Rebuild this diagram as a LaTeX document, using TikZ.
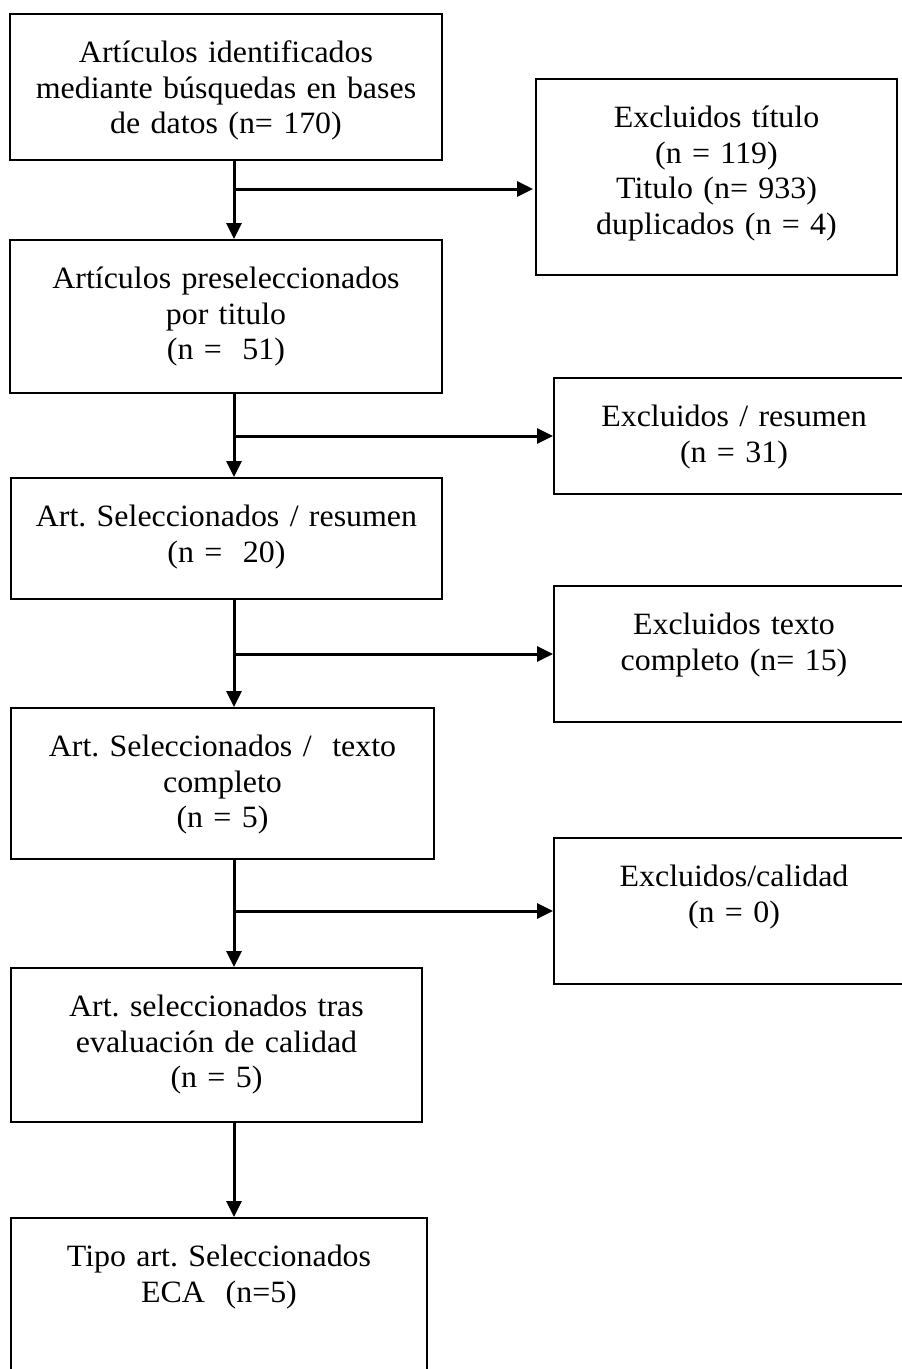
\documentclass[tikz,border=0pt]{standalone}
\usepackage{fontspec}
\setmainfont[FakeStretch=1.03]{Liberation Serif}
\frenchspacing
\usepackage{tikz}
\usetikzlibrary{arrows.meta, positioning}
\tikzstyle{stage} = [
  rectangle,
  anchor=north,
  draw=black,
  line width=2pt,
  inner xsep=0pt,
  inner ysep=0pt,
  align=center,
  text height=48.5pt,
  font=\fontsize{31}{35.5}\selectfont
]
\tikzstyle{excluded} = [stage, text width=360pt]
\tikzstyle{arrow} = [line width=3pt, -{Triangle[length=16pt,width=15pt]}]

\begin{document}
\begin{tikzpicture}[x=1pt, y=-1pt]
    \useasboundingbox (0,0) rectangle (902,1369);
    \coordinate (spine) at (234,0);
    \coordinate (split-title) at (234,189);

    \node (identified) [stage, text width=432pt, text depth=97.5pt] at (226,13)
      {Artículos identificados\\mediante búsquedas en bases\\de datos (n= 170)};
    \node (excluded-title) [excluded, text width=361pt, text depth=147.5pt] at (716.5,78)
      {Excluidos título\\(n = 119)\\Titulo (n= 933)\\duplicados (n = 4)};
    \node (preselected) [stage, text width=432pt, text depth=104.5pt] at (226,239)
      {Artículos preseleccionados\\por titulo\\(n = \ 51)};
    \node (excluded-abstract) [excluded, text depth=67.5pt] at (734,377)
      {Excluidos / resumen\\(n = 31)};
    \node (selected-abstract) [stage, text width=431pt, text depth=72.5pt] at (226.5,477)
      {Art. Seleccionados / resumen\\(n = \ 20)};
    \node (excluded-fulltext) [excluded, text depth=87.5pt] at (734,585)
      {Excluidos texto\\completo (n= 15)};
    \node (selected-fulltext) [stage, text width=423pt, text depth=102.5pt] at (222.5,707)
      {Art. Seleccionados / \ texto\\completo\\(n = 5)};
    \node (excluded-quality) [excluded, text depth=97.5pt] at (734,837)
      {Excluidos/calidad\\(n = 0)};
    \node (selected-quality) [stage, text width=411pt, text depth=105.5pt] at (216.5,967)
      {Art. seleccionados tras\\evaluación de calidad\\(n = 5)};
    \node (study-type) [stage, text width=416pt, text depth=140pt] at (219,1217)
      {Tipo art. Seleccionados\\ECA \ (n=5)};

    \draw [arrow] (identified.south -| spine) -- (preselected.north -| spine);
    \draw [arrow] (split-title) -- ([xshift=-2pt]split-title -| excluded-title.west);
    \draw [arrow] (preselected.south -| spine) -- (selected-abstract.north -| spine);
    \draw [arrow] (spine |- excluded-abstract.west) -- (excluded-abstract.west);
    \draw [arrow] (selected-abstract.south -| spine) -- (selected-fulltext.north -| spine);
    \draw [arrow] (spine |- excluded-fulltext.west) -- (excluded-fulltext.west);
    \draw [arrow] (selected-fulltext.south -| spine) -- (selected-quality.north -| spine);
    \draw [arrow] (spine |- excluded-quality.west) -- (excluded-quality.west);
    \draw [arrow] (selected-quality.south -| spine) -- (study-type.north -| spine);
  \end{tikzpicture}
\end{document}
